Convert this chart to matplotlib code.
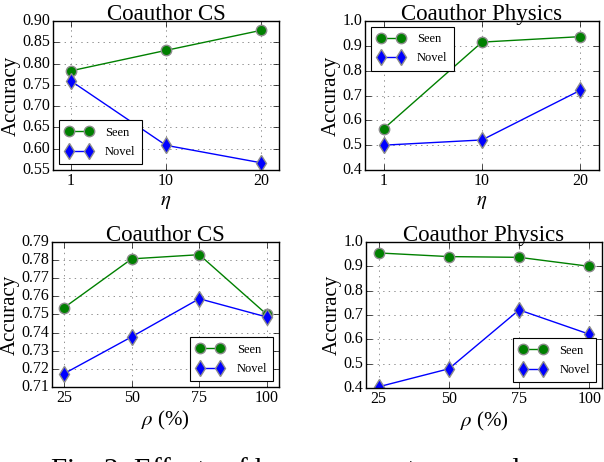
import matplotlib
matplotlib.use("Agg")
import matplotlib.pyplot as plt

plt.style.use("classic")
plt.rcParams["font.family"] = ["Liberation Serif", "DejaVu Serif"]
plt.rcParams["mathtext.fontset"] = "stix"

# ---- data ----
eta_labels = ["1", "10", "20"]
cs_eta_seen = [0.783, 0.831, 0.878]
cs_eta_novel = [0.759, 0.608, 0.567]
ph_eta_seen = [0.566, 0.915, 0.937]
ph_eta_novel = [0.500, 0.521, 0.721]

rho_labels = ["25", "50", "75", "100"]
cs_rho_seen = [0.7538, 0.7807, 0.7830, 0.7500]
cs_rho_novel = [0.7174, 0.7377, 0.7587, 0.7486]
ph_rho_seen = [0.955, 0.940, 0.937, 0.900]
ph_rho_novel = [0.405, 0.479, 0.721, 0.621]

W, H = 604, 462
fig = plt.figure(figsize=(W / 100, H / 100), dpi=100, facecolor="white")


def axes_px(l, r, t, b):
    return fig.add_axes([l / W, (H - b) / H, (r - l) / W, (b - t) / H])


def panel(ax, labels, seen, novel, title, xlabel, ylim, yticks, yfmt, legloc, xpad):
    x = list(range(len(labels)))
    ax.plot(x, seen, color="g", lw=1.0, marker="o", ms=7.5, mfc="g",
            mec="0.55", mew=1.0, label="Seen", clip_on=True)
    ax.plot(x, novel, color="b", lw=1.0, marker="d", ms=8, mfc="b",
            mec="0.55", mew=1.0, label="Novel", clip_on=True)
    ax.set_xlim(-xpad, len(labels) - 1 + xpad)
    ax.set_ylim(*ylim)
    ax.set_xticks(x)
    ax.set_xticklabels(labels)
    ax.set_yticks(yticks)
    ax.set_yticklabels([yfmt % v for v in yticks])
    ax.grid(True, color="0.5", linestyle=":", linewidth=0.6)
    ax.set_axisbelow(True)
    ax.tick_params(direction="in", length=4, labelsize=11.5, pad=2,
                   top=True, right=True)
    ax.set_title(title, fontsize=16.5, pad=1)
    ax.set_xlabel(xlabel, fontsize=15, labelpad=2)
    ax.set_ylabel("Accuracy", fontsize=15, labelpad=1)
    leg = ax.legend(loc=legloc, numpoints=2, fontsize=9, handlelength=2.2,
                    borderaxespad=0.45, fancybox=False, framealpha=1,
                    borderpad=0.5, labelspacing=0.6, handletextpad=1.0)
    leg.get_frame().set_linewidth(0.8)
    leg.get_frame().set_edgecolor("black")


ax1 = axes_px(53, 279, 21, 170)
panel(ax1, eta_labels, cs_eta_seen, cs_eta_novel, "Coauthor CS", r"$\eta$",
      (0.55, 0.90), [0.55, 0.60, 0.65, 0.70, 0.75, 0.80, 0.85, 0.90], "%.2f",
      "lower left", 0.19)

ax2 = axes_px(365, 599, 21, 170)
panel(ax2, eta_labels, ph_eta_seen, ph_eta_novel, "Coauthor Physics", r"$\eta$",
      (0.4, 1.0), [0.4, 0.5, 0.6, 0.7, 0.8, 0.9, 1.0], "%.1f",
      "upper left", 0.19)

ax3 = axes_px(52, 279, 242, 387)
panel(ax3, rho_labels, cs_rho_seen, cs_rho_novel, "Coauthor CS", r"$\rho$ (%)",
      (0.71, 0.79), [0.71, 0.72, 0.73, 0.74, 0.75, 0.76, 0.77, 0.78, 0.79], "%.2f",
      "lower right", 0.18)

ax4 = axes_px(366, 602, 242, 388)
panel(ax4, rho_labels, ph_rho_seen, ph_rho_novel, "Coauthor Physics", r"$\rho$ (%)",
      (0.4, 1.0), [0.4, 0.5, 0.6, 0.7, 0.8, 0.9, 1.0], "%.1f",
      "lower right", 0.18)

fig.text(50 / W, -16 / H, r"Fig. 2: Effects of hyperparameters $\eta$ and $\rho$.",
         fontsize=21, ha="left", va="baseline")

fig.savefig("out.png", dpi=100, facecolor="white")
